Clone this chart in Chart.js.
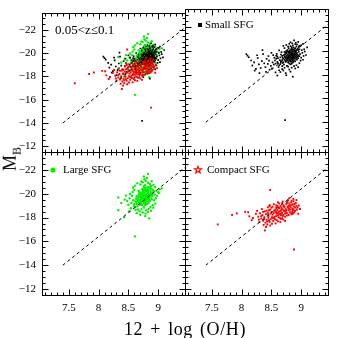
<!DOCTYPE html>
<html>
<head>
<meta charset="utf-8">
<script src="https://cdn.jsdelivr.net/npm/chart.js@4.4.1/dist/chart.umd.min.js"></script>
<style>
  html, body { margin: 0; padding: 0; background: #fff; }
  #wrap { position: relative; width: 338px; height: 338px; overflow: hidden; }
  #wrap canvas { position: absolute; left: 0; top: 0; }
  #xtitle { position: absolute; left: 185px; top: 329px; transform: translate(-50%, -50%);
            font: 18px "Liberation Serif", serif; letter-spacing: 0.6px; word-spacing: 2px; white-space: nowrap; color: #000; }
  #ytitle { position: absolute; left: 12px; top: 159px; transform: translate(-50%, -50%) rotate(-90deg);
            font: 18px "Liberation Serif", serif; white-space: nowrap; color: #000; }
  #ytitle sub { font-size: 12px; }
</style>
</head>
<body>
<div id="wrap">
  <canvas id="tl" width="338" height="338"></canvas>
  <canvas id="tr" width="338" height="338"></canvas>
  <canvas id="bl" width="338" height="338"></canvas>
  <canvas id="br" width="338" height="338"></canvas>
  <div id="xtitle">12 + log (O/H)</div>
  <div id="ytitle">M<sub>B</sub></div>
</div>
<script>
// axis ranges and tick labels
const xRange = [7.05, 9.45];
const yRange = [-23.5, -11.5];
const xTicks = [7.5, 8, 8.5, 9];
const yTicks = [-22, -20, -18, -16, -14, -12];

// dashed reference line
const fitLineX = [7.4, 9.45];
const fitLineY = [-14.0, -22.2];

// Small SFG (black), [12+log(O/H), M_B]
const smallSFG = [
  [8.80,-19.62],[8.85,-19.81],[8.78,-19.33],[8.90,-19.94],[8.83,-19.41],[8.75,-19.12],[8.88,-20.08],[8.92,-19.73],[8.72,-19.51],[8.81,-20.02],
  [8.86,-19.22],[8.79,-19.84],[8.94,-20.18],[8.70,-19.03],[8.84,-19.58],[8.77,-19.69],[8.89,-19.47],[8.82,-19.14],[8.96,-19.91],[8.74,-19.38],
  [8.87,-20.27],[8.80,-18.93],[8.91,-19.31],[8.68,-19.22],[8.85,-20.01],[8.76,-19.93],[8.83,-19.27],[8.93,-20.04],[8.71,-18.84],[8.88,-19.63],
  [8.79,-19.49],[8.84,-20.16],[8.90,-19.11],[8.73,-19.72],[8.86,-19.39],[8.81,-19.77],[8.95,-19.58],[8.69,-19.41],[8.82,-20.38],[8.78,-19.02],
  [8.87,-19.71],[8.92,-20.36],[8.75,-19.57],[8.84,-18.91],[8.89,-20.02],[8.80,-19.28],[8.97,-20.12],[8.66,-19.01],[8.83,-19.88],[8.77,-19.19],
  [8.91,-19.52],[8.85,-19.36],[8.74,-19.86],[8.88,-19.18],[8.82,-19.67],[8.93,-19.83],[8.79,-20.21],[8.86,-20.11],[8.72,-19.26],[8.95,-19.37],
  [8.81,-19.46],[8.87,-19.93],[8.76,-19.44],[8.90,-20.22],[8.84,-19.74],[8.69,-18.97],[8.98,-19.72],[8.80,-19.97],[8.83,-19.06],[8.89,-19.81],
  [8.73,-19.16],[8.86,-19.55],[8.78,-19.91],[8.94,-19.49],[8.82,-19.53],[8.88,-19.34],[8.75,-19.78],[8.91,-19.98],[8.85,-19.17],[8.79,-19.39],
  [8.71,-19.63],[8.96,-20.31],[8.84,-19.32],[8.87,-19.08],[8.77,-20.06],[8.92,-19.61],[8.81,-19.21],[8.89,-19.72],[8.74,-19.07],[8.83,-20.09],
  [8.86,-19.69],[8.80,-19.74],[8.93,-19.26],[8.76,-19.28],[8.90,-19.66],[8.85,-19.47],[8.70,-19.33],[8.88,-19.94],[8.82,-18.86],[8.95,-20.08],
  [8.78,-19.58],[8.84,-20.29],[8.91,-19.86],[8.73,-19.47],[8.87,-19.52],[8.81,-19.89],[8.97,-19.54],[8.68,-19.57],[8.85,-19.91],[8.79,-19.11],
  [8.92,-19.42],[8.86,-19.01],[8.75,-19.99],[8.83,-19.66],[8.89,-20.14],[8.80,-19.41],[8.72,-19.89],[8.94,-19.67],[8.87,-19.43],[8.77,-19.36],
  [8.64,-19.21],[8.61,-18.96],[8.66,-19.68],[8.58,-19.33],[8.63,-18.78],[8.60,-19.52],[8.67,-19.88],[8.57,-18.91],[8.65,-19.44],[8.62,-18.63],
  [8.59,-19.74],[8.66,-19.12],[8.56,-19.18],[8.63,-20.02],[8.61,-19.37],[8.68,-18.71],[8.54,-18.84],[8.60,-19.06],[8.65,-18.88],[8.58,-19.58],
  [8.52,-19.02],[8.49,-18.73],[8.55,-19.41],[8.46,-19.16],[8.51,-18.52],[8.44,-18.89],[8.53,-19.63],[8.47,-18.41],[8.42,-19.32],[8.50,-19.82],
  [8.40,-18.62],[8.45,-19.55],[8.38,-18.94],[8.36,-19.71],[8.41,-18.23],[8.34,-19.12],[8.32,-18.55],[8.29,-18.86],[8.27,-19.38],[8.24,-18.47],
  [8.30,-18.12],[8.21,-19.02],[8.35,-20.05],[8.18,-18.76],[8.26,-19.62],[8.12,-19.45],[8.10,-19.58],[8.08,-19.71],[8.16,-19.18],[8.22,-18.33],
  [8.75,-20.48],[8.85,-20.62],[8.90,-20.55],[8.95,-20.74],[9.00,-20.46],[8.70,-20.41],[8.80,-20.58],[8.88,-20.86],[8.82,-20.71],[8.93,-20.52],
  [8.78,-20.34],[8.97,-20.41],[8.86,-20.44],[8.72,-20.22],[8.91,-20.67],[9.03,-20.58],
  [9.02,-19.82],[9.05,-20.12],[9.08,-19.64],[9.03,-19.24],[9.10,-20.28],[9.00,-19.41],[9.01,-20.04],[9.04,-19.56],[8.99,-19.17],[9.06,-19.93],
  [8.70,-18.34],[8.80,-18.42],[8.90,-18.51],[8.75,-17.94],[8.86,-17.82],[8.95,-18.62],[8.65,-18.21],[8.60,-17.92],[8.78,-18.66],[8.84,-18.58],
  [8.72,-18.57],[8.92,-18.78],[8.68,-18.46],[8.88,-18.71],[8.76,-18.73],[8.82,-18.24],[8.97,-18.95],[8.63,-18.36],[8.57,-18.18],[8.74,-18.12],
  [8.73,-14.18]
];

// Large SFG (green)
const largeSFG = [
  [8.74,-19.72],[8.79,-19.95],[8.70,-19.48],[8.83,-20.13],[8.77,-19.61],[8.68,-19.23],[8.81,-20.36],[8.86,-19.88],[8.66,-19.67],[8.75,-20.21],
  [8.80,-19.35],[8.72,-20.04],[8.88,-20.41],[8.64,-19.14],[8.78,-19.83],[8.71,-19.91],[8.84,-19.68],[8.76,-19.28],[8.90,-20.11],[8.67,-19.52],
  [8.82,-20.54],[8.73,-19.04],[8.85,-19.46],[8.62,-19.36],[8.79,-20.27],[8.69,-20.12],[8.77,-19.41],[8.87,-20.23],[8.65,-18.94],[8.81,-19.77],
  [8.73,-19.62],[8.78,-20.48],[8.84,-19.21],[8.67,-19.87],[8.80,-19.55],[8.75,-19.97],[8.89,-19.76],[8.63,-19.58],[8.76,-20.63],[8.72,-19.16],
  [8.82,-19.92],[8.86,-20.57],[8.69,-19.74],[8.78,-19.06],[8.83,-20.24],[8.74,-19.42],[8.91,-20.32],[8.60,-19.12],[8.77,-20.08],[8.71,-19.33],
  [8.85,-19.64],[8.79,-19.49],[8.68,-20.01],[8.82,-19.32],[8.76,-19.81],[8.87,-19.97],[8.73,-20.35],[8.80,-20.22],[8.66,-19.41],[8.89,-19.53],
  [8.75,-19.55],[8.88,-20.05],[8.70,-19.78],[8.84,-20.42],[8.61,-18.89],[8.79,-19.68],[8.73,-19.86],[8.86,-19.39],[8.78,-20.71],[8.64,-19.79],
  [8.81,-19.11],[8.93,-20.18],[8.72,-19.69],[8.77,-20.33],[8.85,-19.85],[8.69,-19.29],[8.83,-19.58],[8.74,-20.17],[8.90,-19.88],[8.76,-19.19],
  [8.80,-19.89],[8.67,-20.25],[8.84,-19.98],[8.71,-19.56],[8.88,-20.62],[8.63,-19.31],[8.79,-19.24],[8.75,-20.44],[8.82,-20.02],[8.70,-19.07],
  [8.58,-19.45],[8.56,-19.83],[8.59,-18.96],[8.55,-19.22],[8.57,-20.14],[8.54,-18.78],[8.60,-20.31],[8.52,-19.61],[8.62,-18.64],[8.58,-20.52],
  [8.50,-19.07],[8.53,-19.98],[8.48,-19.38],[8.51,-18.52],[8.46,-19.84],[8.61,-20.68],[8.65,-20.87],[8.70,-20.78],[8.74,-20.96],[8.79,-21.07],
  [8.83,-20.92],[8.86,-20.81],[8.81,-21.32],[8.77,-21.21],[8.72,-21.02],[8.89,-21.04],[8.76,-21.44],[8.83,-21.65],[8.92,-20.74],[8.95,-20.56],
  [8.97,-20.24],[8.94,-19.93],[8.96,-19.62],[9.00,-20.12],[9.02,-20.38],[8.98,-19.82],[9.01,-20.05],[8.93,-19.46],[8.95,-19.17],[8.91,-19.04],
  [8.87,-18.88],[8.84,-18.72],[8.80,-18.61],[8.76,-18.84],[8.72,-18.71],[8.69,-18.52],[8.66,-18.68],[8.74,-18.42],[8.79,-18.33],[8.83,-18.47],
  [8.88,-18.56],[8.70,-18.24],[8.64,-18.37],[8.85,-17.93],[8.78,-18.12],[8.92,-18.82],
  [8.33,-19.68],[8.33,-18.62],[8.43,-18.02],[8.61,-16.42],[8.38,-19.21],[8.44,-19.50],[9.06,-20.44]
];

// Compact SFG (red)
const compactSFG = [
  [8.72,-18.54],[8.78,-18.82],[8.65,-18.31],[8.84,-19.06],[8.69,-18.68],[8.58,-18.12],[8.81,-18.45],[8.88,-18.93],[8.62,-18.47],[8.75,-19.14],
  [8.86,-18.61],[8.70,-18.22],[8.91,-19.22],[8.55,-17.92],[8.79,-18.98],[8.67,-18.86],[8.83,-18.34],[8.74,-18.71],[8.89,-18.52],[8.60,-18.63],
  [8.77,-19.31],[8.64,-17.98],[8.85,-18.77],[8.52,-18.24],[8.80,-19.18],[8.68,-18.41],[8.73,-18.07],[8.87,-19.37],[8.57,-18.51],[8.82,-18.66],
  [8.71,-18.94],[8.76,-18.38],[8.90,-18.84],[8.61,-18.18],[8.78,-19.46],[8.66,-18.58],[8.84,-18.27],[8.49,-17.86],[8.93,-18.67],[8.63,-18.79],
  [8.74,-18.49],[8.81,-19.02],[8.69,-18.13],[8.86,-19.11],[8.54,-18.37],[8.79,-18.61],[8.72,-18.88],[8.88,-18.41],[8.59,-17.78],[8.83,-19.27],
  [8.67,-18.72],[8.76,-18.17],[8.92,-18.98],[8.56,-18.66],[8.80,-18.73],[8.70,-19.03],[8.85,-18.46],[8.63,-18.28],[8.77,-18.92],[8.89,-19.14],
  [8.51,-18.02],[8.73,-18.33],[8.82,-18.88],[8.65,-18.96],[8.87,-18.69],[8.58,-18.44],[8.75,-18.62],[8.94,-18.86],[8.68,-17.94],[8.84,-19.41],
  [8.47,-17.63],[8.71,-18.57],[8.79,-18.21],[8.62,-18.84],[8.90,-18.57],[8.53,-17.72],[8.76,-19.22],[8.66,-18.19],[8.86,-18.32],[8.60,-18.98],
  [8.52,-18.91],[8.55,-18.58],[8.49,-18.34],[8.58,-19.02],[8.53,-17.96],[8.61,-17.68],[8.57,-17.51],[8.63,-19.18],[8.48,-18.66],[8.51,-17.48],
  [8.44,-18.86],[8.46,-17.77],[8.59,-18.32],[8.56,-17.86],[8.62,-18.02],[8.65,-17.62],[8.68,-19.21],[8.42,-18.58],[8.54,-19.12],[8.50,-18.47],
  [8.36,-18.48],[8.38,-17.86],[8.33,-18.12],[8.64,-18.52],[8.60,-18.37],[8.70,-17.83],[8.73,-17.71],[8.67,-18.34],[8.47,-18.96],[8.43,-17.67],
  [8.58,-18.84],[8.55,-18.06],[8.66,-17.88],[8.45,-18.29],[8.69,-19.34],[8.61,-19.28],
  [8.45,-18.14],[8.42,-17.81],[8.44,-18.42],[8.40,-17.57],[8.46,-18.61],[8.38,-18.03],[8.41,-18.27],[8.36,-17.74],[8.43,-17.42],[8.39,-18.52],
  [8.35,-18.21],[8.33,-17.92],[8.37,-17.38],[8.31,-18.36],[8.30,-17.63],[8.34,-18.71],[8.28,-18.07],[8.26,-18.56],[8.29,-17.83],[8.24,-18.31],
  [8.39,-16.92],[8.41,-17.21],[8.48,-17.33],[8.50,-18.82],[8.47,-19.04],[8.45,-17.98],
  [8.19,-17.96],[8.17,-17.78],[8.11,-18.45],[8.06,-18.48],[7.92,-18.35],[7.84,-18.22],[7.60,-17.42],[8.13,-18.10],
  [8.48,-20.32],[8.88,-15.32],[8.96,-19.01],[8.98,-18.72],[8.95,-18.32],[8.92,-19.47],[8.87,-19.56],[8.80,-19.62]
];

Chart.defaults.font.family = '"Liberation Serif", serif';
Chart.defaults.color = '#000';

function toPts(arr) {
  return arr.map(p => ({ x: p[0], y: p[1] }));
}

// inward ticks on all four sides, frame, and the little labels inside each panel
const panelDeco = {
  id: 'panelDeco',
  afterDatasetsDraw(chart, args, opts) {
    const ctx = chart.ctx;
    const a = chart.chartArea;
    const xs = chart.scales.x, ys = chart.scales.y;
    const L = Math.round(a.left) + 0.5, R = Math.round(a.right) + 0.5;
    const T = Math.round(a.top) + 0.5, B = Math.round(a.bottom) + 0.5;
    ctx.save();
    ctx.strokeStyle = '#000';
    ctx.lineWidth = 1;
    ctx.strokeRect(L, T, R - L, B - T);

    const xMinor = [], yMinor = [];
    for (let i = 71; i <= 94; i++) xMinor.push(i / 10);
    for (let i = -46; i <= -24; i++) yMinor.push(i / 2);

    ctx.beginPath();
    xMinor.forEach(v => {
      const len = xTicks.some(t => Math.abs(t - v) < 1e-6) ? 6 : 3;
      const px = Math.round(xs.getPixelForValue(v)) + 0.5;
      ctx.moveTo(px, B); ctx.lineTo(px, B - len);
      ctx.moveTo(px, T); ctx.lineTo(px, T + len);
    });
    yMinor.forEach(v => {
      const len = yTicks.some(t => Math.abs(t - v) < 1e-6) ? 6 : 3;
      const py = Math.round(ys.getPixelForValue(v)) + 0.5;
      ctx.moveTo(L, py); ctx.lineTo(L + len, py);
      ctx.moveTo(R, py); ctx.lineTo(R - len, py);
    });
    ctx.stroke();

    (opts.notes || []).forEach(n => {
      const mx = a.left + n.dx, my = a.top + n.dy;
      if (n.marker === 'rect') {
        ctx.fillStyle = n.color;
        ctx.fillRect(mx - 2, my - 2, 4, 4);
      } else if (n.marker === 'circle') {
        ctx.fillStyle = n.color;
        ctx.beginPath(); ctx.arc(mx, my, 2.6, 0, Math.PI * 2); ctx.fill();
      } else if (n.marker === 'star') {
        ctx.strokeStyle = n.color;
        ctx.lineWidth = 1.2;
        ctx.beginPath();
        for (let k = 0; k < 10; k++) {
          const r = k % 2 ? 1.5 : 3.6;
          const ang = -Math.PI / 2 + k * Math.PI / 5;
          const px = mx + r * Math.cos(ang), py = my + r * Math.sin(ang);
          k ? ctx.lineTo(px, py) : ctx.moveTo(px, py);
        }
        ctx.closePath(); ctx.stroke();
      }
      ctx.fillStyle = '#000';
      ctx.font = n.font;
      ctx.textBaseline = 'middle';
      ctx.textAlign = 'left';
      ctx.fillText(n.text, a.left + n.tx, my);
    });
    ctx.restore();
  }
};

function lineSet() {
  return {
    data: fitLineX.map((x, i) => ({ x: x, y: fitLineY[i] })),
    showLine: true, borderColor: '#000', borderWidth: 1, borderDash: [3, 3],
    pointRadius: 0, order: -1
  };
}
function blackSet() {
  return { data: toPts(smallSFG), pointStyle: 'rect', pointRadius: 1.2, pointBorderWidth: 0,
           backgroundColor: '#000', order: 1 };
}
function greenSet() {
  return { data: toPts(largeSFG), pointStyle: 'circle', pointRadius: 1.2, pointBorderWidth: 0,
           backgroundColor: '#00f000', order: 2 };
}
function redSet() {
  return { data: toPts(compactSFG), pointStyle: 'rect', pointRadius: 1.35, pointBorderWidth: 0,
           backgroundColor: '#ff0000', order: 0 };
}

function makePanel(id, datasets, pad, showX, showY, notes) {
  new Chart(document.getElementById(id), {
    type: 'scatter',
    data: { datasets: datasets },
    options: {
      responsive: false,
      animation: false,
      devicePixelRatio: 1,
      layout: { padding: pad },
      plugins: { legend: { display: false }, tooltip: { enabled: false }, panelDeco: { notes: notes } },
      scales: {
        x: {
          type: 'linear', min: xRange[0], max: xRange[1], display: showX,
          grid: { display: false, drawTicks: false }, border: { display: false },
          afterBuildTicks: s => { s.ticks = xTicks.map(v => ({ value: v })); },
          afterFit: s => { if (showX) s.height = 20; },
          ticks: { padding: 7, font: { size: 11 }, color: '#000', callback: v => String(v) }
        },
        y: {
          type: 'linear', min: yRange[0], max: yRange[1], reverse: true, display: showY,
          grid: { display: false, drawTicks: false }, border: { display: false },
          afterBuildTicks: s => { s.ticks = yTicks.map(v => ({ value: v })); },
          afterFit: s => { if (showY) s.width = 42; },
          ticks: { padding: 6, font: { size: 11 }, color: '#000', callback: v => '\u2212' + Math.abs(v) }
        }
      }
    },
    plugins: [panelDeco]
  });
}

makePanel('tl', [lineSet(), redSet(), blackSet(), greenSet()],
  { left: 0, top: 9, right: 153, bottom: 186 }, false, true,
  [{ text: '0.05<z\u22640.1', dx: 0, dy: 18, tx: 13, font: '13px "Liberation Serif"' }]);

makePanel('tr', [lineSet(), blackSet()],
  { left: 185, top: 9, right: 10, bottom: 186 }, false, false,
  [{ text: 'Small SFG', marker: 'rect', color: '#000', dx: 15, dy: 16, tx: 20, font: '11px "Liberation Serif"' }]);

makePanel('bl', [lineSet(), greenSet()],
  { left: 0, top: 152, right: 153, bottom: 23 }, true, true,
  [{ text: 'Large SFG', marker: 'circle', color: '#00f000', dx: 11, dy: 18, tx: 21, font: '11px "Liberation Serif"' }]);

makePanel('br', [lineSet(), redSet()],
  { left: 185, top: 152, right: 10, bottom: 23 }, true, false,
  [{ text: 'Compact SFG', marker: 'star', color: '#ff0000', dx: 13, dy: 18, tx: 22, font: '11px "Liberation Serif"' }]);
</script>
</body>
</html>
